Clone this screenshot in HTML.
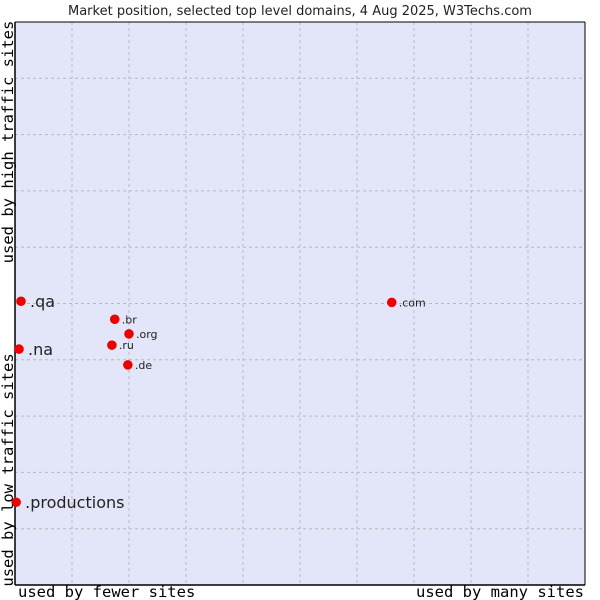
<!DOCTYPE html>
<html><head><meta charset="utf-8"><style>
html,body{margin:0;padding:0;background:#fff;}
svg{display:block;}
</style></head><body>
<svg id="chart" width="600" height="600" xmlns="http://www.w3.org/2000/svg">
<text x="300" y="15" text-anchor="middle" font-family="DejaVu Sans, sans-serif" font-size="13" fill="#222">Market position, selected top level domains, 4 Aug 2025, W3Techs.com</text>
<rect x="15" y="22" width="570" height="563" fill="#e3e5f8" stroke="none"/>
<g id="grid"></g>
<line x1="15" y1="22" x2="15" y2="585" stroke="#000" stroke-width="1.5"/>
<line x1="15" y1="585" x2="585" y2="585" stroke="#000" stroke-width="1.5"/>
<line x1="15" y1="22" x2="585" y2="22" stroke="#000" stroke-width="1"/>
<line x1="585" y1="22" x2="585" y2="585" stroke="#000" stroke-width="1"/>
<g id="points"></g>
<text x="18" y="597" font-family="DejaVu Sans Mono, monospace" font-size="15.5" fill="#000">used by fewer sites</text>
<text x="584" y="597" text-anchor="end" font-family="DejaVu Sans Mono, monospace" font-size="15.5" fill="#000">used by many sites</text>
<text transform="translate(13,142) rotate(-90)" text-anchor="middle" font-family="DejaVu Sans Mono, monospace" font-size="15.5" fill="#000">used by high traffic sites</text>
<text transform="translate(13,470) rotate(-90)" text-anchor="middle" font-family="DejaVu Sans Mono, monospace" font-size="15.5" fill="#000">used by low traffic sites</text>
</svg>
<script>
const labels = [".qa", ".na", ".productions", ".br", ".org", ".ru", ".de", ".com"];
const xValues = [1.05, 0.7, 0.2, 17.5, 20.0, 17.0, 19.8, 66.1];
const yValues = [50.4, 41.9, 14.7, 47.2, 44.6, 42.6, 39.1, 50.2];
const bigLabel = [true, true, true, false, false, false, false, false];
const gridSteps = [1,2,3,4,5,6,7,8,9];

const NS = "http://www.w3.org/2000/svg";
const X0 = 15, X1 = 585, Y0 = 585, Y1 = 22;
function xs(v){ return X0 + v/100*(X1-X0); }
function ys(v){ return Y0 - v/100*(Y0-Y1); }

const grid = document.getElementById('grid');
gridSteps.forEach(function(s){
  const vl = document.createElementNS(NS,'line');
  vl.setAttribute('x1', xs(s*10)); vl.setAttribute('x2', xs(s*10));
  vl.setAttribute('y1', Y1); vl.setAttribute('y2', Y0);
  vl.setAttribute('stroke','#bbb'); vl.setAttribute('stroke-dasharray','3,3');
  
  
  grid.appendChild(vl);
  const hl = document.createElementNS(NS,'line');
  hl.setAttribute('x1', X0); hl.setAttribute('x2', X1);
  hl.setAttribute('y1', ys(s*10)); hl.setAttribute('y2', ys(s*10));
  hl.setAttribute('stroke','#bbb'); hl.setAttribute('stroke-dasharray','3,3');
  
  
  grid.appendChild(hl);
});

const pts = document.getElementById('points');
labels.forEach(function(lab, i){
  const cx = xs(xValues[i]), cy = ys(yValues[i]);
  const d = document.createElementNS(NS,'circle');
  d.setAttribute('cx', cx); d.setAttribute('cy', cy); d.setAttribute('r', 4.8);
  d.setAttribute('fill','#ee0000');
  
  
  pts.appendChild(d);
  const t = document.createElementNS(NS,'text');
  t.setAttribute('x', cx + (bigLabel[i] ? 9 : 7));
  t.setAttribute('y', cy + (bigLabel[i] ? 6 : 4));
  t.setAttribute('font-family','DejaVu Sans, sans-serif');
  t.setAttribute('font-size', bigLabel[i] ? '16' : '11');
  t.setAttribute('fill','#222');
  t.textContent = lab;
  
  
  pts.appendChild(t);
});
</script>
</body></html>
